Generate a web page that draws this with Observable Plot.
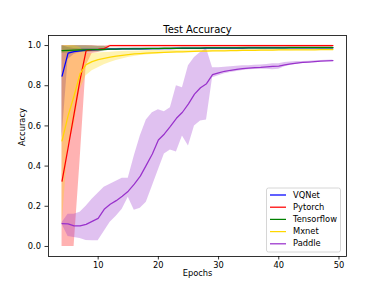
<!DOCTYPE html>
<html>
<head>
<meta charset="utf-8">
<script src="https://cdn.jsdelivr.net/npm/d3@7"></script>
<script src="https://cdn.jsdelivr.net/npm/@observablehq/plot@0.6"></script>
<style>
  html, body { margin: 0; padding: 0; background: white; }
  svg { display: block; }
</style>
</head>
<body>
<div id="chart"></div>
<script>
const title = "Test Accuracy";
const xLabel = "Epochs";
const yLabel = "Accuracy";
const xTicks = [10, 20, 30, 40, 50];
const yTicks = [0, 0.2, 0.4, 0.6, 0.8, 1.0];
const seriesNames = ["VQNet", "Pytorch", "Tensorflow", "Mxnet", "Paddle"];
const seriesColors = ["#0000ff", "#ff0000", "#008000", "#ffd700", "#9932cc"];

const epochs = [4,5,6,7,8,9,10,11,12,13,14,15,16,17,18,19,20,21,22,23,24,25,26,27,28,29,30,31,32,33,34,35,36,37,38,39,40,41,42,43,44,45,46,47,48,49];

const vqnet   = [0.848,0.962,0.970,0.974,0.977,0.979,0.980,0.981,0.982,0.982,0.983,0.983,0.984,0.984,0.984,0.985,0.985,0.985,0.985,0.986,0.986,0.986,0.986,0.986,0.987,0.987,0.987,0.987,0.987,0.987,0.987,0.988,0.988,0.988,0.988,0.988,0.988,0.988,0.988,0.988,0.988,0.988,0.989,0.989,0.989,0.989];
const vqnetLo = [0.540,0.930,0.955,0.965,0.970,0.974,0.976,0.978,0.979,0.979,0.980,0.980,0.981,0.981,0.981,0.982,0.982,0.982,0.982,0.983,0.983,0.983,0.983,0.983,0.984,0.984,0.984,0.984,0.984,0.984,0.984,0.985,0.985,0.985,0.985,0.985,0.985,0.985,0.985,0.985,0.985,0.985,0.986,0.986,0.986,0.986];
const vqnetHi = [1.000,0.990,0.985,0.984,0.984,0.984,0.984,0.984,0.985,0.985,0.986,0.986,0.987,0.987,0.987,0.988,0.988,0.988,0.988,0.989,0.989,0.989,0.989,0.989,0.990,0.990,0.990,0.990,0.990,0.990,0.990,0.991,0.991,0.991,0.991,0.991,0.991,0.991,0.991,0.991,0.991,0.991,0.992,0.992,0.992,0.992];

const pytorch   = [0.325,0.490,0.660,0.830,0.975,0.980,0.981,0.985,1.000,1.000,1.000,1.000,1.000,1.000,1.000,1.000,1.000,1.000,1.000,1.000,1.000,1.000,1.000,1.000,1.000,1.000,1.000,1.000,1.000,1.000,1.000,1.000,1.000,1.000,1.000,1.000,1.000,1.000,1.000,1.000,1.000,1.000,1.000,1.000,1.000,1.000];
const pytorchLo = [0.000,0.000,0.000,0.430,0.900,0.960,0.965,0.975,0.998,0.998,0.998,0.998,0.998,0.998,0.998,0.998,0.998,0.998,0.998,0.998,0.998,0.998,0.998,0.998,0.998,0.998,0.998,0.998,0.998,0.998,0.998,0.998,0.998,0.998,0.998,0.998,0.998,0.998,0.998,0.998,0.998,0.998,0.998,0.998,0.998,0.998];
const pytorchHi = [1.000,1.000,1.000,1.000,1.000,1.000,0.998,0.998,1.001,1.001,1.001,1.001,1.001,1.001,1.001,1.001,1.001,1.001,1.001,1.001,1.001,1.001,1.001,1.001,1.001,1.001,1.001,1.001,1.001,1.001,1.001,1.001,1.001,1.001,1.001,1.001,1.001,1.001,1.001,1.001,1.001,1.001,1.001,1.001,1.001,1.001];

const tensorflow   = [0.975,0.976,0.977,0.978,0.979,0.980,0.980,0.981,0.982,0.982,0.983,0.983,0.984,0.984,0.985,0.985,0.985,0.986,0.986,0.986,0.987,0.987,0.987,0.987,0.988,0.988,0.988,0.988,0.988,0.988,0.989,0.989,0.989,0.989,0.989,0.989,0.989,0.989,0.990,0.990,0.990,0.990,0.990,0.990,0.990,0.990];
const tensorflowLo = [0.962,0.963,0.965,0.966,0.967,0.968,0.969,0.970,0.978,0.978,0.979,0.979,0.980,0.980,0.981,0.981,0.981,0.982,0.982,0.982,0.983,0.983,0.983,0.983,0.984,0.984,0.984,0.984,0.984,0.984,0.985,0.985,0.985,0.985,0.985,0.985,0.985,0.985,0.986,0.986,0.986,0.986,0.986,0.986,0.986,0.986];
const tensorflowHi = [0.998,0.998,0.999,0.999,0.999,0.998,0.997,0.996,0.986,0.986,0.987,0.987,0.988,0.988,0.989,0.989,0.989,0.990,0.990,0.990,0.991,0.991,0.991,0.991,0.992,0.992,0.992,0.992,0.992,0.992,0.993,0.993,0.993,0.993,0.993,0.993,0.993,0.993,0.994,0.994,0.994,0.994,0.994,0.994,0.994,0.994];

const mxnet   = [0.525,0.650,0.750,0.860,0.905,0.920,0.930,0.936,0.942,0.947,0.951,0.955,0.958,0.960,0.962,0.964,0.965,0.966,0.967,0.968,0.969,0.970,0.971,0.972,0.972,0.973,0.974,0.974,0.975,0.975,0.976,0.976,0.976,0.977,0.977,0.977,0.978,0.978,0.978,0.979,0.979,0.979,0.979,0.980,0.980,0.980];
const mxnetLo = [0.100,0.500,0.600,0.780,0.850,0.875,0.890,0.905,0.915,0.925,0.933,0.940,0.945,0.950,0.953,0.956,0.958,0.960,0.962,0.963,0.964,0.965,0.967,0.968,0.968,0.969,0.970,0.970,0.971,0.971,0.972,0.972,0.972,0.973,0.973,0.973,0.974,0.974,0.974,0.975,0.975,0.975,0.975,0.976,0.976,0.976];
const mxnetHi = [1.000,1.000,1.000,0.990,0.960,0.960,0.963,0.965,0.967,0.969,0.970,0.971,0.972,0.973,0.974,0.975,0.975,0.976,0.976,0.976,0.977,0.977,0.977,0.978,0.978,0.978,0.978,0.978,0.979,0.979,0.980,0.980,0.980,0.981,0.981,0.981,0.982,0.982,0.982,0.983,0.983,0.983,0.983,0.984,0.984,0.984];

const paddle   = [0.114,0.112,0.102,0.102,0.110,0.125,0.140,0.185,0.210,0.228,0.250,0.275,0.310,0.350,0.405,0.460,0.530,0.560,0.598,0.638,0.668,0.710,0.758,0.790,0.810,0.855,0.864,0.872,0.877,0.881,0.885,0.888,0.890,0.891,0.894,0.896,0.898,0.904,0.909,0.913,0.916,0.918,0.920,0.922,0.924,0.925];
const paddleLo = [0.110,0.050,0.045,0.040,0.030,0.028,0.028,0.075,0.120,0.150,0.185,0.245,0.180,0.190,0.220,0.300,0.380,0.460,0.480,0.470,0.550,0.500,0.600,0.625,0.630,0.840,0.850,0.860,0.866,0.871,0.876,0.879,0.881,0.882,0.882,0.880,0.882,0.894,0.902,0.907,0.912,0.915,0.918,0.920,0.922,0.923];
const paddleHi = [0.118,0.160,0.160,0.170,0.200,0.235,0.265,0.295,0.310,0.325,0.340,0.340,0.450,0.550,0.630,0.665,0.680,0.670,0.690,0.800,0.790,0.900,0.940,0.965,0.985,0.890,0.890,0.892,0.895,0.897,0.900,0.900,0.902,0.903,0.906,0.909,0.910,0.915,0.918,0.920,0.921,0.922,0.924,0.925,0.927,0.928];

const seriesValues = [vqnet, pytorch, tensorflow, mxnet, paddle];
const seriesLo = [vqnetLo, pytorchLo, tensorflowLo, mxnetLo, paddleLo];
const seriesHi = [vqnetHi, pytorchHi, tensorflowHi, mxnetHi, paddleHi];

const tables = seriesNames.map((name, s) =>
  epochs.map((e, i) => ({epoch: e, value: seriesValues[s][i], lo: seriesLo[s][i], hi: seriesHi[s][i], name}))
);

const bandMarks = tables.map((t, s) =>
  Plot.areaY(t, {x: "epoch", y1: "lo", y2: "hi", fill: seriesColors[s], fillOpacity: 0.3})
);
const lineMarks = tables.map((t, s) =>
  Plot.lineY(t, {x: "epoch", y: "value", stroke: seriesColors[s], strokeWidth: 1.25})
);

const chart = Plot.plot({
  width: 383,
  height: 288,
  marginLeft: 48,
  marginRight: 37,
  marginTop: 35,
  marginBottom: 32,
  style: {fontFamily: "DejaVu Sans, sans-serif", fontSize: "8.3px", color: "black", background: "white"},
  x: {domain: [1.75, 51.25]},
  y: {domain: [-0.05, 1.05]},
  marks: [
    ...bandMarks,
    ...lineMarks,
    Plot.frame({stroke: "black", strokeWidth: 0.8}),
    Plot.axisX({ticks: xTicks, tickSize: 3.5, tickPadding: 2, label: null, strokeWidth: 0.8}),
    Plot.axisY({ticks: yTicks, tickSize: 3.5, tickPadding: 4, tickFormat: d3.format(".1f"), label: null, strokeWidth: 0.8}),
    Plot.text([title], {frameAnchor: "top", dy: -9.5, fontSize: 10, fill: "black"}),
    Plot.text([xLabel], {frameAnchor: "bottom", dy: 19.5, fontSize: 8.3, fill: "black"}),
    Plot.text([yLabel], {frameAnchor: "left", dx: -26.5, rotate: -90, fontSize: 8.3, fill: "black"})
  ]
});

document.getElementById("chart").appendChild(chart);

// Legend (layout only)
const svg = d3.select(chart);
const lg = svg.append("g")
  .attr("font-family", "DejaVu Sans, sans-serif")
  .attr("font-size", "8.3px")
  .attr("text-anchor", "start");
lg.append("rect")
  .attr("x", 266.5).attr("y", 188).attr("width", 74).attr("height", 64)
  .attr("rx", 2).attr("fill", "white").attr("fill-opacity", 0.8)
  .attr("stroke", "#cccccc").attr("stroke-width", 0.8);
seriesNames.forEach((name, i) => {
  const y = 195 + i * 12.2;
  lg.append("line").attr("x1", 270).attr("x2", 286).attr("y1", y).attr("y2", y)
    .attr("stroke", seriesColors[i]).attr("stroke-width", 1.25);
  lg.append("text").attr("x", 293).attr("y", y).attr("dy", "0.32em")
    .attr("text-anchor", "start").attr("fill", "black").text(name);
});
</script>
</body>
</html>
